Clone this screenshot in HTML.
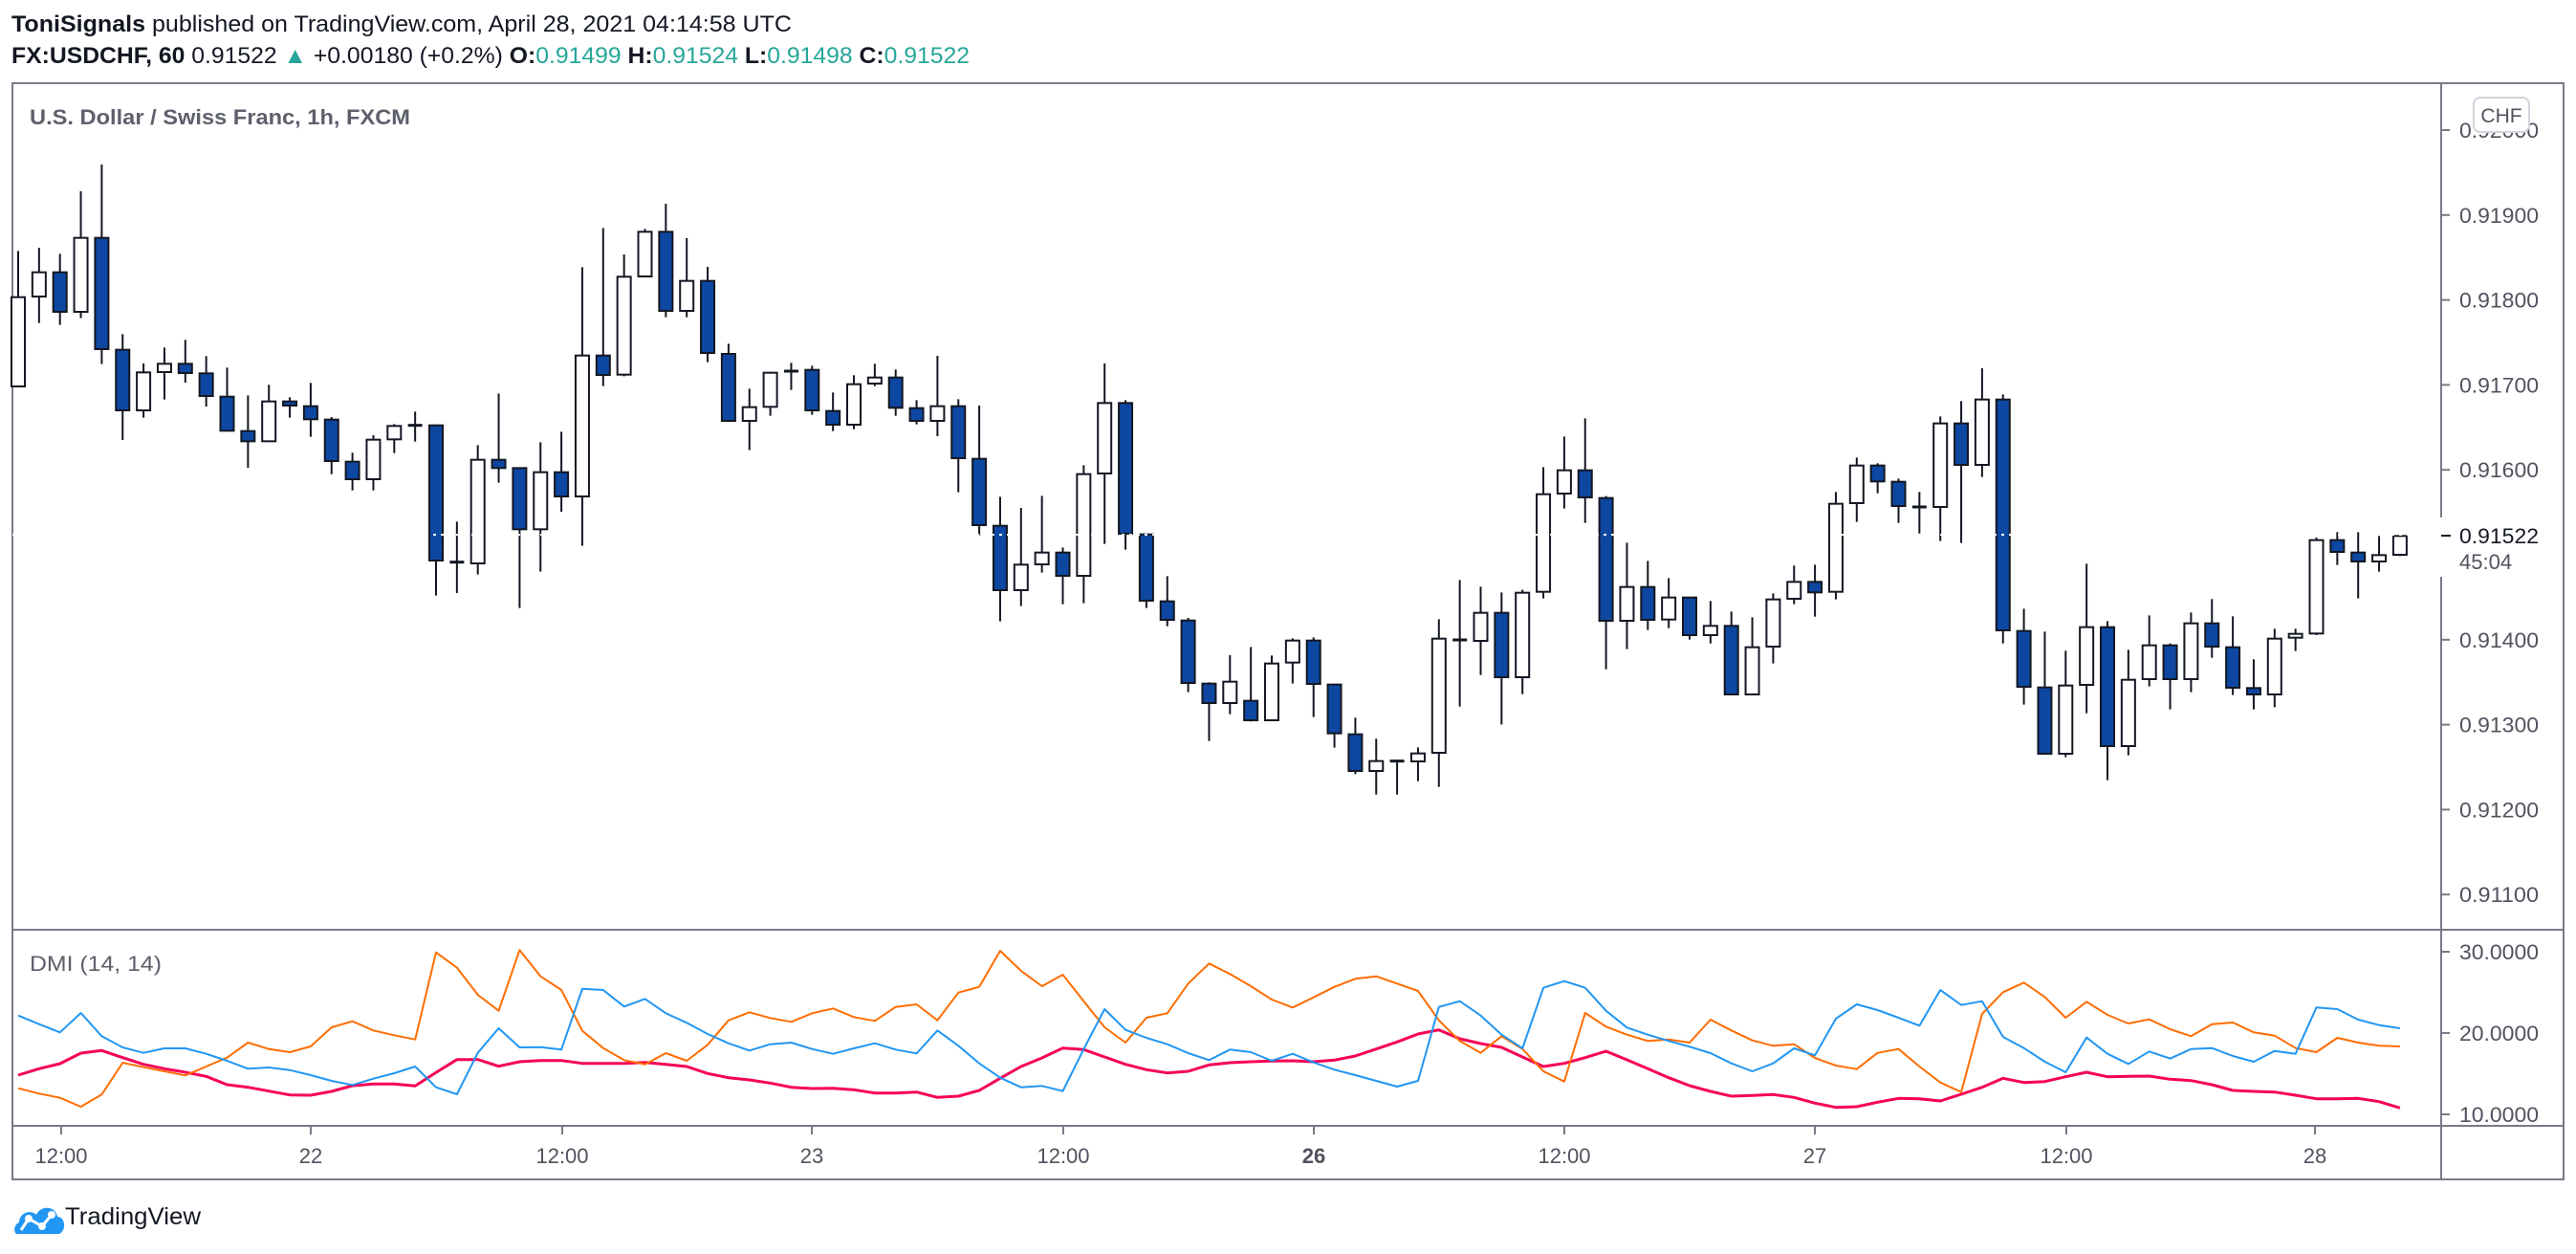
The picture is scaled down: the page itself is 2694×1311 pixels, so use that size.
<!DOCTYPE html>
<html><head><meta charset="utf-8">
<style>
html,body{margin:0;padding:0;background:#fff;}
body{width:2694px;height:1306px;overflow:hidden;position:relative;font-family:"Liberation Sans",sans-serif;}
svg text{font-family:"Liberation Sans",sans-serif;}
</style></head>
<body>
<svg id="s" width="2694" height="1306" xmlns="http://www.w3.org/2000/svg">
<rect width="2694" height="1306" fill="#fff"/>
<text x="12" y="33" font-size="24" fill="#131722" textLength="816" lengthAdjust="spacingAndGlyphs"><tspan font-weight="bold">ToniSignals</tspan> published on TradingView.com, April 28, 2021 04:14:58 UTC</text>
<text x="12" y="66" font-size="24" fill="#131722" textLength="1002" lengthAdjust="spacingAndGlyphs"><tspan font-weight="bold">FX:USDCHF, 60</tspan> 0.91522 <tspan fill="#26a69a">▲</tspan> +0.00180 (+0.2%) <tspan font-weight="bold">O:</tspan><tspan fill="#26a69a">0.91499</tspan> <tspan font-weight="bold">H:</tspan><tspan fill="#26a69a">0.91524</tspan> <tspan font-weight="bold">L:</tspan><tspan fill="#26a69a">0.91498</tspan> <tspan font-weight="bold">C:</tspan><tspan fill="#26a69a">0.91522</tspan></text>
<g stroke="#787b86" stroke-width="2" fill="none">
<rect x="13" y="87" width="2668" height="1146"/>
<line x1="13" y1="972" x2="2681" y2="972"/>
<line x1="13" y1="1177" x2="2681" y2="1177"/>
<line x1="2553" y1="87" x2="2553" y2="541"/>
<line x1="2553" y1="603" x2="2553" y2="1233"/>
</g>
<text x="31" y="130" font-size="22" font-weight="bold" fill="#5d606b" textLength="398" lengthAdjust="spacingAndGlyphs">U.S. Dollar / Swiss Franc, 1h, FXCM</text>
<text x="31" y="1015" font-size="22" fill="#5d606b" textLength="138" lengthAdjust="spacingAndGlyphs">DMI (14, 14)</text>
<g id="ax" font-size="22" fill="#50535e"></g>
<rect x="2587" y="102" width="58" height="36" rx="7" fill="#fff" stroke="#d1d4dc" stroke-width="2"/>
<text x="2616" y="128" font-size="21" fill="#50535e" text-anchor="middle">CHF</text>
<line x1="2553" y1="560" x2="2563" y2="560" stroke="#131722" stroke-width="2"/>
<text x="2572" y="568" font-size="22" fill="#131722" textLength="83" lengthAdjust="spacingAndGlyphs">0.91522</text>
<text x="2572" y="595" font-size="22" fill="#50535e">45:04</text>
<g id="dmi" fill="none" stroke-linejoin="round"></g>
<g id="cd"></g>
<line x1="13" y1="559" x2="2553" y2="559" stroke="#fff" stroke-width="2" stroke-dasharray="3 5"/>
<g transform="translate(14,1252)">
<path d="M4 38 C0 38 0 28 6 26 C6 16 18 12 24 18 C28 8 44 8 46 20 C54 20 56 34 48 38 Z" fill="#2196f3"/>
<circle cx="16" cy="22" r="4" fill="#fff"/><circle cx="30" cy="30" r="4" fill="#fff"/><circle cx="40" cy="18" r="4" fill="#fff"/>
<polyline points="8,34 16,22 30,30 40,18" stroke="#fff" stroke-width="3" fill="none"/>
</g>
<text x="68" y="1280" font-size="25" fill="#131722" textLength="142" lengthAdjust="spacingAndGlyphs">TradingView</text>
</svg>
<script>
var NS="http://www.w3.org/2000/svg";
function el(t,a,p){var e=document.createElementNS(NS,t);for(var k in a)e.setAttribute(k,a[k]);p.appendChild(e);return e;}
var ax=document.getElementById("ax");
var pl=["0.92000","0.91900","0.91800","0.91700","0.91600","0.91500","0.91400","0.91300","0.91200","0.91100"];
for(var i=0;i<pl.length;i++){var y=136+i*88.8;if(i==5)continue;
 el("line",{x1:2553,y1:y,x2:2562,y2:y,stroke:"#787b86","stroke-width":2},ax);
 var t=el("text",{x:2572,y:y+8,textLength:83,lengthAdjust:"spacingAndGlyphs"},ax);t.textContent=pl[i];}
var dl=[["30.0000",995],["20.0000",1080],["10.0000",1165]];
dl.forEach(function(d){el("line",{x1:2553,y1:d[1],x2:2562,y2:d[1],stroke:"#787b86","stroke-width":2},ax);
 var t=el("text",{x:2572,y:d[1]+8,textLength:83,lengthAdjust:"spacingAndGlyphs"},ax);t.textContent=d[0];});
var tl=[["12:00",64],["22",325],["12:00",588],["23",849],["12:00",1112],["26",1374],["12:00",1636],["27",1898],["12:00",2161],["28",2421]];
tl.forEach(function(d){el("line",{x1:d[1],y1:1177,x2:d[1],y2:1186,stroke:"#787b86","stroke-width":2},ax);
 var t=el("text",{x:d[1],y:1216,"text-anchor":"middle","font-weight":d[0]=="26"?"bold":"normal"},ax);t.textContent=d[0];});
// candles: [type, high, top, bottom, low], groups with y offset
var G=[[150,[
"W",337,482,762,765,"W",327,404,480,563,"B",346,404,528,569,"W",150,296,528,548,"B",66,296,645,692,
"B",598,647,837,930,"W",690,718,837,860,"W",640,691,717,803,"B",616,691,720,750,"B",667,721,792,825,
"B",703,794,901,901,"B",790,902,934,1017,"W",757,809,934,934,"B",796,809,822,860,"B",751,824,865,920,
"B",858,866,996,1037,"B",970,998,1053,1088,"W",915,929,1053,1088,"W",880,886,928,971,"D",841,884,884,935,
"B",884,884,1308,1418,"D",1186,1313,1313,1410,"W",946,992,1317,1352,"B",784,992,1018,1064,"B",1018,1018,1210,1457,
"W",937,1031,1210,1343,"B",904,1031,1107,1155,"W",388,665,1107,1262,"B",265,665,726,761]],
[180,["W",258,328,635,640,"W",178,187,327,327,"B",99,187,435,455,"W",207,341,435,455,"B",297,341,567,596]],
[350,["B",28,60,270,270,"W",169,227,270,362,"W",116,119,226,254,"D",88,114,114,173,"B",97,110,237,251,
"B",181,239,282,302,"W",127,155,282,296,"W",91,134,153,161,"B",109,134,229,254,"B",205,230,270,281,
"W",66,224,270,318,"B",202,224,387,494,"B",222,389,597,629,"B",508,599,801,899,"W",543,721,801,851,
"W",505,683,720,746,"B",667,683,756,845,"W",409,437,756,842,"W",90,214,435,656,"B",205,214,624,674,
"B",626,626,834,857,"B",757,836,894,914,"B",888,896,1092,1121,"B",1090,1094,1155,1274]],
[350,["W",1005,1088,1155,1190,"B",979,1148,1209,1213,"W",1006,1031,1209,1209,"W",952,959,1028,1094,"B",949,959,1095,1199,
"B",1097,1097,1250,1295,"B",1201,1253,1368,1378,"W",1267,1337,1368,1442,"D",1333,1337,1337,1442,"W",1294,1313,1338,1400,
"W",892,953,1311,1418,"D",769,957,957,1166,"W",790,872,960,1067,"B",808,872,1074,1222,"W",800,809,1074,1127,
"W",415,500,806,827,"W",319,425,498,545,"B",262,425,510,590,"B",506,512,897,1049,"W",652,791,897,986,
"B",709,791,894,926,"W",763,824,893,920,"B",824,824,942,956,"W",835,913,942,968,"B",868,913,1128,1128,
"W",886,980,1128,1128,"W",811,830,978,1031,"W",724,775,828,845,"B",721,775,808,884]],
[350,["W",493,530,806,830,"W",385,410,528,587,"B",403,410,460,497,"B",451,461,537,590,"D",493,540,540,623,
"W",256,278,540,647,"B",208,278,408,653,"W",105,203,408,446,"B",187,203,927,968,"B",859,929,1104,1160,
"B",931,1106,1314,1314,"W",991,1100,1314,1325,"W",718,917,1098,1187,"B",898,917,1290,1397,"W",988,1082,1290,1319,
"W",880,974,1080,1103,"B",968,974,1080,1175,"W",871,905,1080,1121,"B",829,905,978,1013,"B",883,980,1107,1130,
"B",1018,1108,1128,1175,"W",922,953,1128,1168,"W",922,938,950,992,"W",636,644,937,942,"B",619,644,681,722,
"B",619,683,711,827,"W",631,691,711,743,"W",627,631,690,694]]];
var cd=document.getElementById("cd"),idx=0;
G.forEach(function(g){var off=g[0],a=g[1];for(var j=0;j<a.length;j+=5){
 var x=19+21.85*idx,h=off+a[j+1]/3,t=off+a[j+2]/3,b=off+a[j+3]/3,l=off+a[j+4]/3,ty=a[j];
 el("line",{x1:x,y1:h,x2:x,y2:l,stroke:"#131722","stroke-width":2},cd);
 if(ty=="D"){el("rect",{x:x-7.5,y:t-1.5,width:15,height:3,fill:"#131722"},cd);}
 else el("rect",{x:x-7,y:t,width:14,height:Math.max(b-t,2),fill:ty=="B"?"#0d47a1":"#fff",stroke:"#131722","stroke-width":2},cd);
 idx++;}});
// DMI
var B1=[335,362,388,327,400,435,452,438,438,455,477,502,498,506,522,540,553,533,516,495,560,582,452,375,435,434,442,251,255,307,283,328,358,393,422,445,425,420,440,455,438,422,442,454,382,430,485,530,560,556,572,440,315,380,405,425,453,475];
var O1=[563,580,593,621,583,483,497,510,523,495,467,420,440,450,432,372,353,382,397,410,137,185,270,320,130,212,255,383,437,475,488,453,477,427,350,325,343,355,328,313,340,352,308,300,350,263,245,132,195,243,207,290,372,420,342,328,235,172];
var R1=[522,502,486,453,445,467,488,502,513,526,552,560,572,584,585,573,555,550,550,556,514,473,473,494,480,476,476,485,485,485,482,488,495,517,530,537,547,560,564,563,568,578,578,575,592,588,570,532,495,468,437,442,465,488,505,515,510,490];
var B2=[412,420,447,425,452,475,492,510,528,510,278,260,305,365,408,218,197,218,290,343,365,385,403,423,455,480,455,408,430,315,270,288,312,337,225,272,260,372,407,450,483,374,425,457,418,440,410,407,432,450,416,425,280,285,318,335,345];
var O2=[175,213,255,280,248,215,190,182,205,228,320,385,422,370,410,480,512,297,340,365,385,380,390,318,352,383,400,395,438,462,473,422,410,465,515,545,300,232,202,247,312,262,303,330,317,348,370,332,327,358,368,407,420,375,390,400,402];
var R2=[453,450,448,447,450,445,432,410,388,363,350,378,393,405,435,465,455,437,417,444,472,500,525,543,558,556,553,562,580,593,591,577,565,566,573,552,530,502,515,512,497,483,497,496,495,505,509,522,540,543,545,555,566,566,565,575,595];
function pts(a1,a2){var p=[];a1.forEach(function(v,i){p.push((19+21.85*i).toFixed(1)+","+(950+v/3).toFixed(1));});
 a2.forEach(function(v,i){p.push((19+21.85*(58+i)).toFixed(1)+","+(960+v/3).toFixed(1));});return p.join(" ");}
var dm=document.getElementById("dmi");
el("polyline",{points:pts(R1,R2),stroke:"#f50057","stroke-width":3},dm);
el("polyline",{points:pts(O1,O2),stroke:"#ff6d00","stroke-width":2},dm);
el("polyline",{points:pts(B1,B2),stroke:"#2196f3","stroke-width":2},dm);
</script>
</body></html>
